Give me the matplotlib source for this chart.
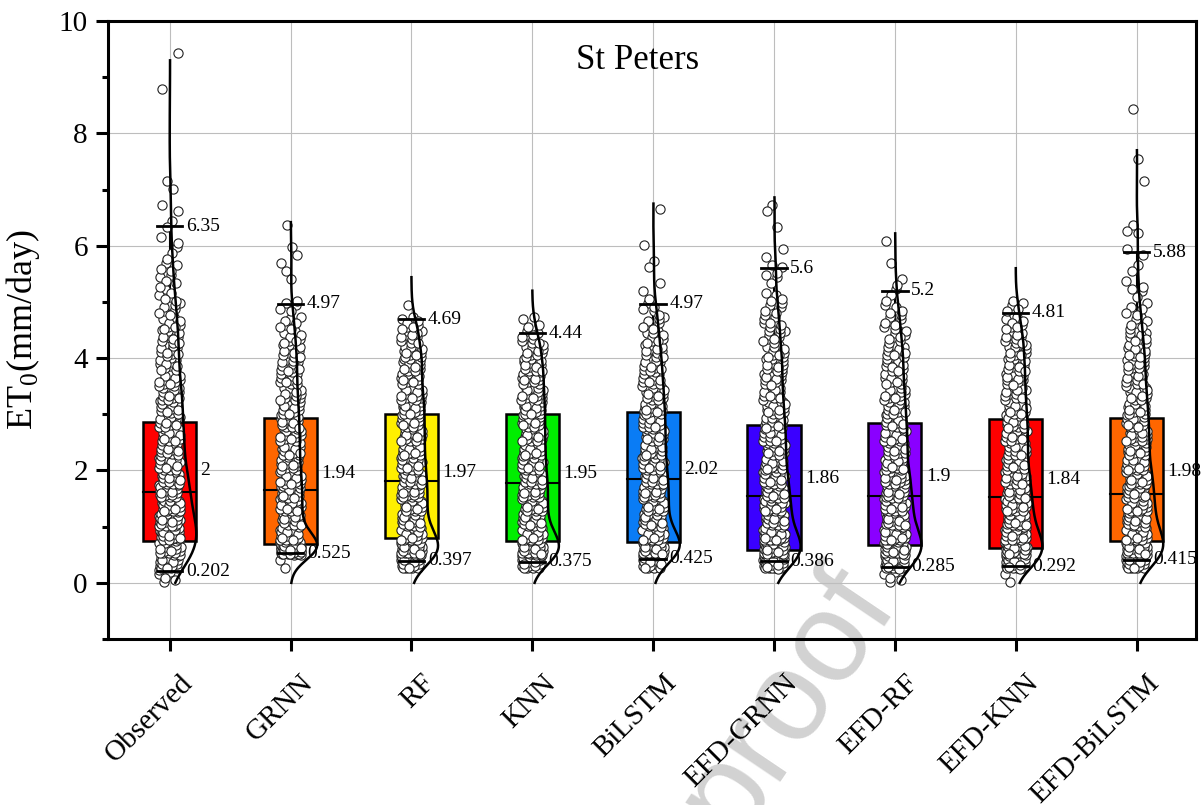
import numpy as np
import matplotlib.pyplot as plt
from matplotlib.patches import Rectangle
from matplotlib.ticker import MultipleLocator
from matplotlib.transforms import ScaledTranslation

plt.rcParams['font.family'] = 'Liberation Serif'

models = ['Observed', 'GRNN', 'RF', 'KNN', 'BiLSTM',
          'EFD-GRNN', 'EFD-RF', 'EFD-KNN', 'EFD-BiLSTM']
colors = ['#FF0000', '#FF6600', '#FFEF00', '#00EE00', '#0A7CF5',
          '#3A00FF', '#8A00FF', '#FF0000', '#FF6600']

# box statistics, mm/day
q1 = [0.75, 0.69, 0.79, 0.75, 0.73, 0.59, 0.67, 0.62, 0.75]
median = [1.62, 1.66, 1.81, 1.77, 1.85, 1.55, 1.55, 1.53, 1.58]
q3 = [2.87, 2.94, 3.00, 3.00, 3.04, 2.81, 2.85, 2.91, 2.94]
mean = [2, 1.94, 1.97, 1.95, 2.02, 1.86, 1.9, 1.84, 1.98]
upper = [6.35, 4.97, 4.69, 4.44, 4.97, 5.6, 5.2, 4.81, 5.88]
lower = [0.202, 0.525, 0.397, 0.375, 0.425, 0.386, 0.285, 0.292, 0.415]
curve_top = [9.3, 6.42, 5.44, 5.2, 6.75, 6.86, 6.22, 5.6, 7.7]

# number of daily values in each 0.25 mm/day band, starting at 0
BIN = 0.25
obs_counts = [6, 24, 34, 34, 30, 27, 24, 21, 19, 18, 17, 16, 15, 14, 13, 12, 11, 10, 9,
              8, 6, 5, 4, 3, 2, 2, 2, 0, 2, 0, 0, 0, 0, 0, 0, 1, 0, 1]
grnn_counts = [0, 2, 98, 24, 22, 22, 22, 20, 19, 18, 17, 16, 15, 14, 13, 12, 11, 9, 7,
               4, 1, 1, 2, 2, 0, 1]
rf_counts = [0, 30, 50, 30, 24, 23, 22, 21, 20, 20, 19, 18, 18, 17, 16, 15, 13, 11, 8, 1]
knn_counts = [0, 28, 52, 30, 24, 23, 22, 21, 20, 20, 19, 18, 18, 18, 17, 15, 13, 9, 4]
bilstm_counts = [0, 22, 58, 30, 24, 23, 22, 21, 20, 19, 18, 17, 17, 16, 15, 13, 11, 9, 7,
                 5, 2, 1, 2, 0, 1, 0, 1]
efd_grnn_counts = [0, 40, 52, 32, 27, 25, 23, 21, 19, 18, 17, 16, 15, 14, 13, 12, 11, 9,
                   8, 6, 4, 3, 3, 2, 0, 1, 2]
efd_rf_counts = [5, 34, 46, 32, 28, 25, 23, 21, 19, 18, 17, 16, 15, 14, 13, 12, 11, 9, 7,
                 5, 3, 2, 1, 0, 1]
efd_knn_counts = [2, 38, 48, 32, 28, 25, 22, 21, 19, 18, 17, 17, 16, 15, 14, 13, 12, 10,
                  8, 4, 1]
efd_bilstm_counts = [0, 30, 50, 30, 27, 25, 23, 21, 19, 18, 17, 16, 15, 14, 13, 12, 10, 9,
                     7, 5, 3, 2, 2, 2, 1, 2, 0, 0, 1, 0, 1, 0, 0, 1]
counts_all = [obs_counts, grnn_counts, rf_counts, knn_counts, bilstm_counts,
              efd_grnn_counts, efd_rf_counts, efd_knn_counts, efd_bilstm_counts]

HALF = 0.22     # half box width
JIT = 0.09      # half width of the point cloud
A1, A2 = 0.7548776662466927, 0.5698402909980532

fig = plt.figure(figsize=(12.02, 8.05), dpi=100)
ax = fig.add_axes([0.0899, 0.2062, 0.905, 0.7677])
ax.patch.set_alpha(0)

fig.text(0.655, 0.13, 'proof', family='Liberation Sans', fontsize=92,
         color='#d2d2d2', rotation=56, ha='center', va='center', zorder=-1)

for i, counts in enumerate(counts_all):
    pos = i + 1
    # spread the points of every band over the band and across the cloud width
    xs, ys = [], []
    k = 0
    for b, n in enumerate(counts):
        for j in range(n):
            k += 1
            u = (0.5 + k * A1) % 1
            v = (0.5 + k * A2) % 1
            xs.append(pos + (2 * u - 1) * JIT)
            ys.append(b * BIN + v * BIN)
    ys = np.array(ys)

    ax.add_patch(Rectangle((pos - HALF, q1[i]), 2 * HALF, q3[i] - q1[i],
                           facecolor=colors[i], edgecolor='k', lw=1.8, zorder=2))
    ax.plot([pos - HALF, pos + HALF], [median[i]] * 2, color='k', lw=1.5, zorder=2.1)
    ax.plot([pos, pos], [q3[i], upper[i]], color='k', lw=1.5, zorder=1.9)
    ax.plot([pos, pos], [lower[i], q1[i]], color='k', lw=1.5, zorder=1.9)

    ax.scatter(xs, ys, s=44, facecolor='white', edgecolor='#222222', lw=0.8, zorder=3)

    # kernel density of the values, drawn on the right of the box
    h = 0.6 * 0.9 * min(ys.std(), (np.percentile(ys, 75) - np.percentile(ys, 25)) / 1.34) \
        * len(ys) ** -0.2
    yy = np.linspace(0, curve_top[i], 400)
    dens = np.exp(-0.5 * ((yy[:, None] - ys[None, :]) / h) ** 2).sum(axis=1)
    ax.plot(pos + dens / dens.max() * HALF, yy, color='k', lw=1.8, zorder=4)

    for val in (upper[i], lower[i]):
        ax.plot([pos - 0.105, pos + 0.105], [val, val], color='k', lw=2, zorder=5)
        ax.text(pos + 0.135, val, f'{val:g}', fontsize=14, va='center', ha='left',
                zorder=6)
    ax.text(pos + HALF + 0.035, mean[i], f'{mean[i]:g}', fontsize=14, va='center',
            ha='left', zorder=6)

ax.text(0.487, 0.936, 'St Peters', transform=ax.transAxes, fontsize=25,
        ha='center', va='center')

ax.set_xlim(0.49, 9.49)
ax.set_ylim(-1, 10)
ax.set_yticks(range(0, 11, 2))
ax.yaxis.set_minor_locator(MultipleLocator(1))
ax.set_xticks(range(1, 10))
ax.set_xticklabels([])
# slanted category names under the ticks
lab_trans = ax.get_xaxis_transform() + ScaledTranslation(19 / 100, -40 / 100,
                                                         fig.dpi_scale_trans)
for pos, name in enumerate(models, start=1):
    ax.text(pos, 0, name, transform=lab_trans, fontsize=21, rotation=45,
            rotation_mode='anchor', ha='right', va='center', clip_on=False)

ax.tick_params(axis='both', which='major', direction='out', length=8.6, width=2.2,
               labelsize=21, pad=6)
ax.tick_params(axis='y', which='minor', direction='out', length=4, width=2.2)
ax.grid(True, color='#bdbdbd', lw=0.8)
ax.set_axisbelow(True)
for sp in ax.spines.values():
    sp.set_linewidth(2.2)

ax.set_ylabel('ET$_\\mathregular{0}$(mm/day)', fontsize=26, labelpad=12)

fig.savefig('out.png', dpi=100)
